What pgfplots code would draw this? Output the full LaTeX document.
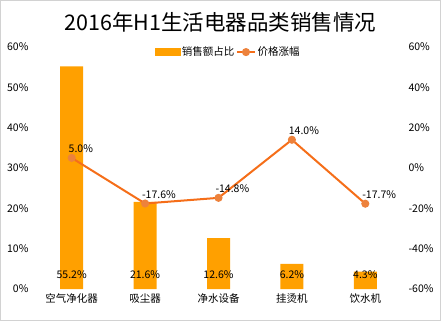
\documentclass[border=0pt]{standalone}
\usepackage{pgfplots}
\pgfplotsset{compat=1.18}
\usepackage{fontspec}
\setmainfont{Noto Sans CJK SC}
\definecolor{barc}{RGB}{255,160,0}
\definecolor{linec}{RGB}{245,110,25}
\definecolor{markc}{RGB}{237,130,60}
\begin{document}
\begin{tikzpicture}[x=1pt,y=1pt]
\useasboundingbox (0,0) rectangle (441,321);
\draw[gray!35] (0.5,0.5) rectangle (440.5,320.5);
\node[font=\fontsize{21.5}{25}\selectfont] at (220.5,299) {2016年H1生活电器品类销售情况};
\begin{axis}[
  at={(35pt,32pt)}, anchor=south west, scale only axis,
  width=367pt, height=242pt,
  xmin=-0.5, xmax=4.5, ymin=0, ymax=60,
  xtick={0,1,2,3,4},
  xticklabels={空气净化器,吸尘器,净水设备,挂烫机,饮水机},
  ytick={0,10,20,30,40,50,60},
  yticklabel={\pgfmathprintnumber{\tick}\%},
  /pgf/number format/assume math mode=true,
  axis line style={draw=none},
  major tick length=0pt,
  ticklabel style={font=\fontsize{10.5}{12}\selectfont},
  yticklabel style={xshift=-3pt},
  xticklabel style={yshift=-1pt},
  ymajorgrids=false,
  clip=false,
]
\addplot[ybar, bar width=23pt, fill=barc, draw=none] coordinates {(0,55.2) (1,21.6) (2,12.6) (3,6.2) (4,4.3)};
\addplot[draw=none, mark=none, nodes near coords={\pgfplotspointmeta\%}, point meta=explicit symbolic,
  every node near coord/.append style={anchor=center, font=\fontsize{10.5}{12}\selectfont, text=black}]
  table[meta=lab] {
x y lab
0 3.5 55.2
1 3.5 21.6
2 3.5 12.6
3 3.5 6.2
4 3.5 4.3
};
\end{axis}
\begin{axis}[
  at={(35pt,32pt)}, anchor=south west, scale only axis,
  width=367pt, height=242pt,
  xmin=-0.5, xmax=4.5, ymin=-60, ymax=60,
  xtick=\empty,
  ytick={-60,-40,-20,0,20,40,60},
  yticklabel pos=right,
  yticklabel={\pgfmathprintnumber{\tick}\%},
  /pgf/number format/assume math mode=true,
  axis line style={draw=none},
  major tick length=0pt,
  ticklabel style={font=\fontsize{10.5}{12}\selectfont},
  yticklabel style={xshift=3pt},
  clip=false,
  legend columns=2,
  legend style={at={(0.526,0.979)}, anchor=center, draw=none, fill=none,
    font=\fontsize{10.5}{12}\selectfont, /tikz/every even column/.append style={column sep=0pt}},
]
\addlegendimage{legend image code/.code={\fill[barc] (0pt,-3.5pt) rectangle (25pt,3.5pt);}}
\addlegendentry{销售额占比}
\addplot[linec, line width=2pt, mark=*, mark size=3pt, mark options={fill=markc, draw=markc},
  nodes near coords={\pgfmathprintnumber[fixed,precision=1,fixed zerofill]{\pgfplotspointmeta}\%},
  every node near coord/.append style={anchor=south west, inner sep=0pt, xshift=-4pt, yshift=4pt,
    font=\fontsize{10.5}{12}\selectfont, text=black}]
  coordinates {(0,5.0) (1,-17.6) (2,-14.8) (3,14.0) (4,-17.7)};
\addlegendentry{价格涨幅}
\end{axis}
\end{tikzpicture}
\end{document}
